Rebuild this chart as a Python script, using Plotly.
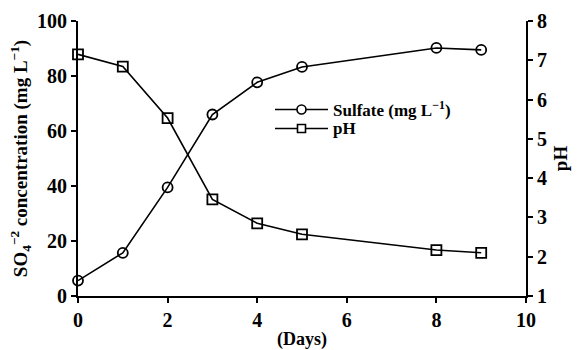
import plotly.graph_objects as go

days = [0, 1, 2, 3, 4, 5, 8, 9]
sulfate = [5.6, 15.7, 39.5, 66.0, 77.7, 83.3, 90.2, 89.5]
ph = [7.15, 6.84, 5.53, 3.46, 2.85, 2.57, 2.17, 2.10]
legend_labels = ["Sulfate (mg L<sup>−1</sup>)", "pH"]

FONT = "Liberation Serif"
L, R, T, B, W, H = 78, 51, 21, 54, 577, 350
PW, PH = W - L - R, H - T - B

def px(x):
    return (x - L) / PW

def py(y):
    return (H - B - y) / PH

fig = go.Figure()
fig.add_trace(go.Scatter(
    x=days, y=sulfate, name=legend_labels[0], mode="lines+markers",
    line=dict(color="black", width=1.6),
    marker=dict(symbol="circle-open", size=10, color="black", line=dict(width=1.8)),
    cliponaxis=False, showlegend=False))
fig.add_trace(go.Scatter(
    x=days, y=ph, name=legend_labels[1], mode="lines+markers", yaxis="y2",
    line=dict(color="black", width=1.6),
    marker=dict(symbol="square-open", size=10, color="black", line=dict(width=1.8)),
    cliponaxis=False, showlegend=False))

tickfont = dict(family=FONT, size=20, color="black", weight="bold")
common = dict(showgrid=False, zeroline=False, showline=True, linecolor="black", linewidth=2,
              ticks="outside", ticklen=5, tickwidth=2, tickcolor="black", tickfont=tickfont,
              automargin=False)

# custom legend (key line + symbol + label)
rows = [(109.5, "circle"), (128.5, "rect")]
shapes = []
annotations = []
for (ry, kind), label in zip(rows, legend_labels):
    shapes.append(dict(type="line", xref="paper", yref="paper", x0=px(275), x1=px(328),
                       y0=py(ry), y1=py(ry), line=dict(color="black", width=1.6)))
    r = 4.5 if kind == "circle" else 4
    shapes.append(dict(type=kind, xref="paper", yref="paper", xsizemode="pixel", ysizemode="pixel",
                       xanchor=px(301.5), yanchor=py(ry), x0=-r, x1=r, y0=-r, y1=r,
                       fillcolor="white", line=dict(color="black", width=1.6)))
    annotations.append(dict(text=label, xref="paper", yref="paper", x=px(331), y=py(ry),
                            xanchor="left", yanchor="middle", showarrow=False,
                            font=dict(family=FONT, size=17, color="black", weight="bold")))

fig.update_layout(
    width=W, height=H, margin=dict(l=L, r=R, t=T, b=B),
    paper_bgcolor="white", plot_bgcolor="white",
    font=dict(family=FONT, color="black"),
    xaxis=dict(range=[0, 10], dtick=2, **common,
               title=dict(text="(Days)", font=dict(family=FONT, size=18, color="black", weight="bold"), standoff=2)),
    yaxis=dict(range=[0, 100], dtick=20, **common,
               title=dict(text="SO<sub>4</sub><sup>−2</sup> concentration (mg L<sup>−1</sup>)",
                          font=dict(family=FONT, size=19, color="black", weight="bold"), standoff=4)),
    yaxis2=dict(range=[1, 8], dtick=1, overlaying="y", side="right", **common,
                title=dict(text="pH", font=dict(family=FONT, size=19, color="black", weight="bold"), standoff=8)),
    shapes=shapes,
    annotations=annotations,
    showlegend=False,
)
fig.write_html("out.html", config={"displayModeBar": False},
               post_script="document.body.style.margin='0';document.body.style.padding='0';")
